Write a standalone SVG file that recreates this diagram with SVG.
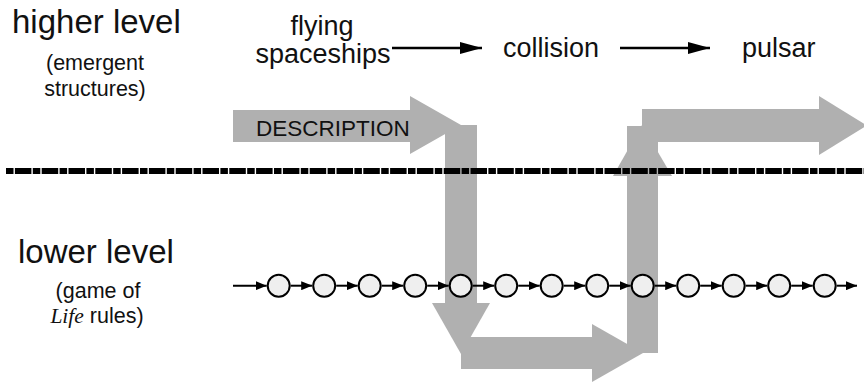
<svg xmlns="http://www.w3.org/2000/svg" width="864" height="385" viewBox="0 0 864 385">
<defs>
<style>
.t{font-family:"Liberation Sans",Arial,sans-serif;fill:#111}
.big{font-size:33px}
.mid{font-size:27px}
.sm{font-size:21.5px}
.desc{font-size:22.5px}
.band{fill:#b0b0b0}
.chain{stroke:#000;stroke-width:2;fill:none}
.top{stroke:#000;stroke-width:2.5;fill:none}
.cell{fill:#efefef;stroke:#000;stroke-width:2}
</style>
<marker id="ah" markerUnits="userSpaceOnUse" markerWidth="11" markerHeight="9" refX="11" refY="4.5" orient="auto"><path d="M0,0 L11,4.5 L0,9 z" fill="#000"/></marker>
<marker id="ahb" markerUnits="userSpaceOnUse" markerWidth="22" markerHeight="12" refX="22" refY="6" orient="auto"><path d="M0,0 L22,6 L0,12 z" fill="#000"/></marker>
</defs>
<rect width="864" height="385" fill="#fff"/>

<g id="bands">
<polygon class="band" points="233,110 410,110 410,96 461,125 410,154 410,142 233,142"/>
<rect class="band" x="445" y="125" width="32" height="178"/>
<polygon class="band" points="432,303 490,303 461,354"/>
<rect class="band" x="461" y="337" width="131" height="32"/>
<polygon class="band" points="592,324 592,382 643,353"/>
<rect class="band" x="627" y="126" width="31" height="227"/>
<polygon class="band" points="613,176 672,176 642,125"/>
<rect class="band" x="642" y="109" width="177" height="33"/>
<polygon class="band" points="819,96 819,155 867,125.5"/>
</g>

<g id="divider">
<line x1="6" y1="171" x2="864" y2="171" stroke="#000" stroke-width="6" stroke-dasharray="7.5 1.4 16.5 1.4"/>
</g>

<g id="labels">
<text class="t big" x="12" y="33">higher level</text>
<text class="t sm" x="95" y="70" text-anchor="middle">(emergent</text>
<text class="t sm" x="95" y="96" text-anchor="middle">structures)</text>
<text class="t big" x="18" y="263">lower level</text>
<text class="t sm" x="98" y="298" text-anchor="middle">(game of</text>
<text class="t sm" x="97" y="323" text-anchor="middle"><tspan font-family="'Liberation Serif',serif" font-style="italic">Life</tspan> rules)</text>
<text class="t desc" x="256" y="136">DESCRIPTION</text>
</g>

<g id="node-flying">
<text class="t mid" x="322" y="35" text-anchor="middle">flying</text>
<text class="t mid" x="323" y="63" text-anchor="middle">spaceships</text>
</g>
<g id="node-collision"><text class="t mid" x="503" y="57">collision</text></g>
<g id="node-pulsar"><text class="t mid" x="742" y="57">pulsar</text></g>

<g id="cells">
<circle id="c1" class="cell" cx="278.7" cy="285.7" r="11"/>
<circle id="c2" class="cell" cx="324.2" cy="285.7" r="11"/>
<circle id="c3" class="cell" cx="369.7" cy="285.7" r="11"/>
<circle id="c4" class="cell" cx="415.2" cy="285.7" r="11"/>
<circle id="c5" class="cell" cx="460.7" cy="285.7" r="11"/>
<circle id="c6" class="cell" cx="506.2" cy="285.7" r="11"/>
<circle id="c7" class="cell" cx="551.7" cy="285.7" r="11"/>
<circle id="c8" class="cell" cx="597.2" cy="285.7" r="11"/>
<circle id="c9" class="cell" cx="642.7" cy="285.7" r="11"/>
<circle id="c10" class="cell" cx="688.2" cy="285.7" r="11"/>
<circle id="c11" class="cell" cx="733.7" cy="285.7" r="11"/>
<circle id="c12" class="cell" cx="779.2" cy="285.7" r="11"/>
<circle id="c13" class="cell" cx="824.7" cy="285.7" r="11"/>
</g>

<g id="connectors">
<line class="top" x1="392" y1="48" x2="482" y2="48" marker-end="url(#ahb)"/>
<line class="top" x1="620" y1="48" x2="710" y2="48" marker-end="url(#ahb)"/>
<line class="chain" x1="233" y1="285.7" x2="266.7" y2="285.7" marker-end="url(#ah)"/>
<line class="chain" x1="290.7" y1="285.7" x2="312.2" y2="285.7" marker-end="url(#ah)"/>
<line class="chain" x1="336.2" y1="285.7" x2="357.7" y2="285.7" marker-end="url(#ah)"/>
<line class="chain" x1="381.7" y1="285.7" x2="403.2" y2="285.7" marker-end="url(#ah)"/>
<line class="chain" x1="427.2" y1="285.7" x2="448.7" y2="285.7" marker-end="url(#ah)"/>
<line class="chain" x1="472.7" y1="285.7" x2="494.2" y2="285.7" marker-end="url(#ah)"/>
<line class="chain" x1="518.2" y1="285.7" x2="539.7" y2="285.7" marker-end="url(#ah)"/>
<line class="chain" x1="563.7" y1="285.7" x2="585.2" y2="285.7" marker-end="url(#ah)"/>
<line class="chain" x1="609.2" y1="285.7" x2="630.7" y2="285.7" marker-end="url(#ah)"/>
<line class="chain" x1="654.7" y1="285.7" x2="676.2" y2="285.7" marker-end="url(#ah)"/>
<line class="chain" x1="700.2" y1="285.7" x2="721.7" y2="285.7" marker-end="url(#ah)"/>
<line class="chain" x1="745.7" y1="285.7" x2="767.2" y2="285.7" marker-end="url(#ah)"/>
<line class="chain" x1="791.2" y1="285.7" x2="812.7" y2="285.7" marker-end="url(#ah)"/>
<line class="chain" x1="836.7" y1="285.7" x2="857" y2="285.7" marker-end="url(#ah)"/>
</g>
</svg>
